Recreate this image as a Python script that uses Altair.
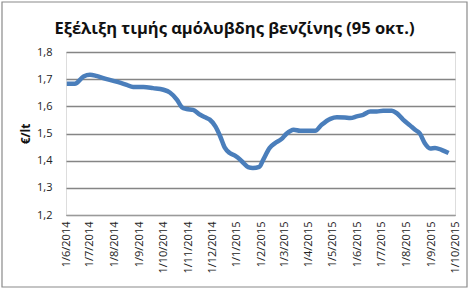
import altair as alt
import pandas as pd

dates = [
    "2014-06-02", "2014-06-12", "2014-06-23", "2014-07-01", "2014-07-09", "2014-07-22",
    "2014-08-03", "2014-08-16", "2014-08-24", "2014-09-06", "2014-09-18", "2014-10-01",
    "2014-10-09", "2014-10-18", "2014-10-24", "2014-10-30", "2014-11-07", "2014-11-16",
    "2014-11-24", "2014-11-28", "2014-12-05", "2014-12-11", "2014-12-17", "2014-12-23",
    "2014-12-30", "2015-01-05", "2015-01-09", "2015-01-15", "2015-01-21", "2015-01-29",
    "2015-02-03", "2015-02-11", "2015-02-18", "2015-02-26", "2015-03-04", "2015-03-13",
    "2015-03-21", "2015-03-29", "2015-04-09", "2015-04-17", "2015-04-28", "2015-05-06",
    "2015-05-16", "2015-05-23", "2015-05-31", "2015-06-08", "2015-06-17", "2015-06-25",
    "2015-07-03", "2015-07-14", "2015-07-20", "2015-07-28", "2015-08-06", "2015-08-12",
    "2015-08-18", "2015-08-24", "2015-08-31", "2015-09-06", "2015-09-14", "2015-09-23",
]
prices = [
    1.683, 1.683, 1.710, 1.716, 1.712, 1.700,
    1.691, 1.679, 1.671, 1.671, 1.667, 1.661,
    1.651, 1.624, 1.597, 1.590, 1.587, 1.569,
    1.557, 1.551, 1.526, 1.490, 1.447, 1.428,
    1.418, 1.404, 1.392, 1.376, 1.373, 1.377,
    1.404, 1.447, 1.465, 1.480, 1.499, 1.514,
    1.510, 1.510, 1.510, 1.532, 1.554, 1.560,
    1.559, 1.557, 1.563, 1.569, 1.581, 1.581,
    1.584, 1.584, 1.575, 1.551, 1.529, 1.514,
    1.500, 1.465, 1.445, 1.447, 1.440, 1.428,
]
tick_dates = [
    "2014-06-01", "2014-07-01", "2014-08-01", "2014-09-01", "2014-10-01", "2014-11-01",
    "2014-12-01", "2015-01-01", "2015-02-01", "2015-03-01", "2015-04-01", "2015-05-01",
    "2015-06-01", "2015-07-01", "2015-08-01", "2015-09-01", "2015-10-01",
]
y_ticks = [1.2, 1.3, 1.4, 1.5, 1.6, 1.7, 1.8]

title = "Εξέλιξη τιμής αμόλυβδης βενζίνης (95 οκτ.)"
y_title = "€/lt"

df = pd.DataFrame({"date": dates, "price": prices})

FONT = "Open Sans"

tick_dt = [alt.DateTime(year=int(d[:4]), month=int(d[5:7]), date=int(d[8:10])) for d in tick_dates]

line = alt.Chart(df).mark_line(color="#4a7ebb", strokeWidth=4.5, interpolate="monotone").encode(
    x=alt.X(
        "date:T",
        scale=alt.Scale(domain=[tick_dt[0], tick_dt[-1]]),
        axis=alt.Axis(
            values=tick_dt,
            format="%-d/%-m/%Y",
            labelAngle=270,
            labelAlign="right",
            labelBaseline="middle",
            labelFontSize=11,
            labelFont=FONT,
            labelColor="#222222",
            labelPadding=6,
            tickSize=0,
            domainColor="#9a9a9a",
            grid=False,
            title=None,
            labelOverlap=False,
        ),
    ),
    y=alt.Y(
        "price:Q",
        scale=alt.Scale(domain=[1.2, 1.8], nice=False, zero=False),
        axis=alt.Axis(
            values=y_ticks,
            labelExpr="replace(format(datum.value, '.1f'), '.', ',')",
            labelFontSize=11,
            labelFont=FONT,
            labelColor="#222222",
            labelPadding=14,
            tickSize=0,
            domain=False,
            grid=True,
            gridColor="#858585",
            gridWidth=1.3,
            title=y_title,
            titleFont=FONT,
            titleFontSize=12,
            titleFontWeight="bold",
            titleColor="#111111",
            titlePadding=4,
        ),
    ),
)

frame = alt.Chart(pd.DataFrame({"k": [0]})).mark_rect(
    fill=None, stroke="#8a8a8a", strokeWidth=1.2
).encode(
    x=alt.value(-64), x2=alt.value(401), y=alt.value(-50), y2=alt.value(235)
)

chart = alt.layer(line, frame).properties(
    width=389,
    height=163,
    autosize="none",
    padding={"left": 66, "top": 52, "right": 15, "bottom": 75},
    title=alt.TitleParams(
        text=title,
        font=FONT,
        fontSize=16.5,
        fontWeight="bold",
        color="#111111",
        anchor="middle",
        dx=-26,
        offset=-36,
    ),
).configure_view(
    fill="#e6e6e6",
    stroke="#9a9a9a",
    strokeWidth=1,
).configure(background="white")

chart.save("out.html", embed_options={"renderer": "svg", "actions": False})
